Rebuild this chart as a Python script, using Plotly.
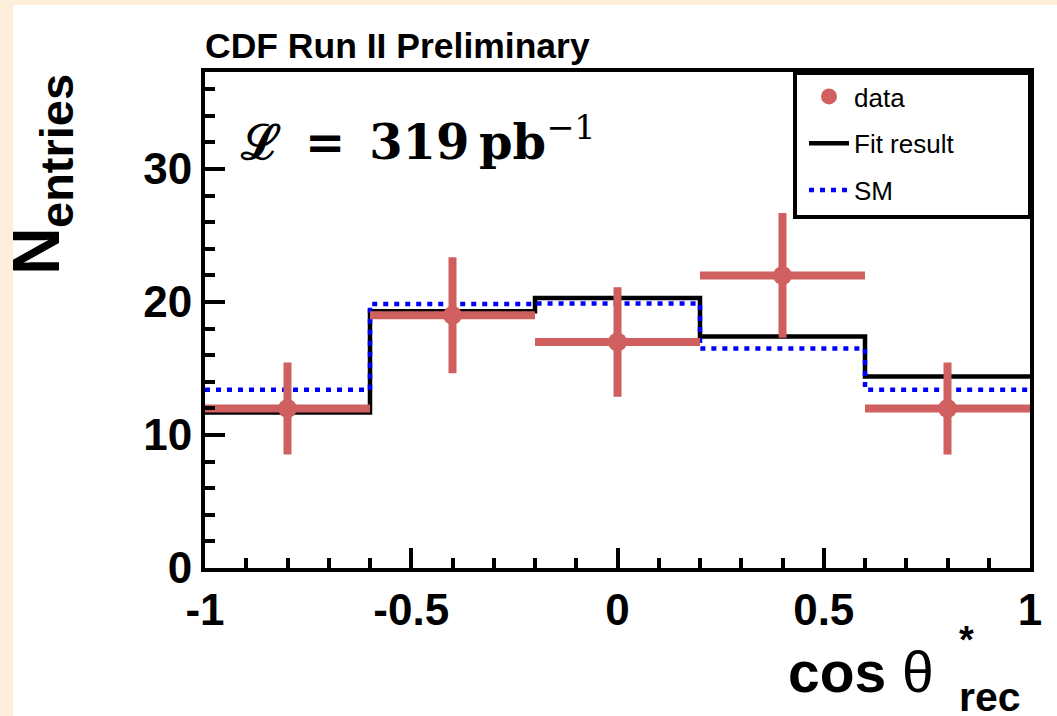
import plotly.graph_objects as go

# ---- data ----
bin_edges = [-1.0, -0.6, -0.2, 0.2, 0.6, 1.0]
bin_centers = [-0.8, -0.4, 0.0, 0.4, 0.8]
bin_halfwidth = [0.2, 0.2, 0.2, 0.2, 0.2]
data_counts = [12, 19, 17, 22, 12]
data_errors = [3.46, 4.36, 4.12, 4.69, 3.46]
fit_result = [11.7, 19.3, 20.3, 17.4, 14.4]
sm_values = [13.4, 19.85, 19.9, 16.5, 13.4]
x_tickvals = [-1, -0.5, 0, 0.5, 1]
x_ticktext = ["-1", "-0.5", "0", "0.5", "1"]
y_tickvals = [0, 10, 20, 30]

RED = "#D05F5F"
CREAM = "#FDEFD9"
SANS = "Liberation Sans"

# screen geometry of the plot area
SL, SR, ST, SB = 205, 1030, 72, 568
W, H = 1057, 716


def px(sx):
    return (sx - SL) / (SR - SL)


def py(sy):
    return (SB - sy) / (SB - ST)


fig = go.Figure()

fig.add_trace(go.Scatter(
    x=bin_edges, y=fit_result + [fit_result[-1]], mode="lines",
    line=dict(color="black", width=4.5, shape="hv"),
    name="Fit result", legendgroup="b", legendrank=2,
))
fig.add_trace(go.Scatter(
    x=bin_edges, y=sm_values + [sm_values[-1]], mode="lines",
    line=dict(color="#0000FF", width=4.5, shape="hv", dash="5px,6px"),
    name="SM", legendgroup="c", legendrank=3,
))
fig.add_trace(go.Scatter(
    x=bin_centers, y=data_counts, mode="markers",
    marker=dict(color=RED, size=19),
    error_y=dict(type="data", array=data_errors, thickness=8, width=0, color=RED),
    error_x=dict(type="data", array=bin_halfwidth, thickness=8, width=0, color=RED),
    name="data", legendgroup="a", legendrank=1,
))

axis_common = dict(
    showline=True, linewidth=4, linecolor="black", mirror=True,
    ticks="inside", tickwidth=4, tickcolor="black", ticklen=20,
    showgrid=False, zeroline=False,
    tickfont=dict(family=SANS, size=44, color="black", weight="bold"),
)

fig.update_xaxes(
    range=[-1, 1], tickvals=x_tickvals, ticktext=x_ticktext,
    minor=dict(dtick=0.1, ticks="inside", ticklen=10, tickwidth=4, tickcolor="black"),
    **axis_common,
)
fig.update_yaxes(
    range=[0, 37.3], tickvals=y_tickvals,
    minor=dict(dtick=2, ticks="inside", ticklen=10, tickwidth=4, tickcolor="black"),
    **axis_common,
)

shapes = [
    # white canvas inside the cream border
    dict(type="rect", xref="paper", yref="paper", x0=px(13), x1=px(1070),
         y0=py(730), y1=py(5), fillcolor="white", line=dict(width=0), layer="below"),
    # legend box
    dict(type="rect", xref="paper", yref="paper", x0=px(795), x1=px(1030),
         y0=py(217), y1=py(73), fillcolor="white", line=dict(color="black", width=4),
         layer="above"),
]

ann = dict(xref="paper", yref="paper", showarrow=False)
annotations = [
    dict(text="<b>CDF Run II Preliminary</b>", x=px(203), y=py(46), xanchor="left",
         yanchor="middle", font=dict(family=SANS, size=35.5, color="black"), **ann),
    dict(text="<b>ℒ\u2002=\u2002319\u2009pb</b><sup>−1</sup>", x=px(238), y=py(139),
         xanchor="left", yanchor="middle",
         font=dict(family="DejaVu Serif", size=48, color="black"), **ann),
    # y-axis title: N with subscript "entries"
    dict(text="<b>N</b>", x=px(36), y=py(251), xanchor="center",
         yanchor="middle", textangle=-90, font=dict(family=SANS, size=66, color="black"), **ann),
    dict(text="<b>entries</b>", x=px(56), y=py(151), xanchor="center",
         yanchor="middle", textangle=-90, font=dict(family=SANS, size=47, color="black"), **ann),
    # x-axis title: cos theta*_rec
    dict(text="<b>cos</b> θ", x=px(936), y=py(672), xanchor="right", yanchor="middle",
         font=dict(family=SANS, size=57, color="black"), **ann),
    dict(text="<b>*</b>", x=px(966), y=py(640), xanchor="center", yanchor="middle",
         font=dict(family=SANS, size=38, color="black"), **ann),
    dict(text="<b>rec</b>", x=px(957), y=py(697), xanchor="left", yanchor="middle",
         font=dict(family=SANS, size=41, color="black"), **ann),
]

fig.update_layout(
    width=W, height=H,
    margin=dict(l=SL, r=W - SR, t=ST, b=H - SB, autoexpand=False),
    paper_bgcolor=CREAM, plot_bgcolor="white",
    shapes=shapes, annotations=annotations,
    showlegend=True,
    legend=dict(
        x=px(804), y=py(73), xanchor="left", yanchor="top",
        bgcolor="rgba(0,0,0,0)", borderwidth=0,
        font=dict(family=SANS, size=26, color="black"),
        traceorder="grouped", tracegroupgap=10, itemwidth=40,
    ),
)

fig.write_html("out.html", config={"displayModeBar": False},
               post_script="document.body.style.margin='0';"
                           "document.body.style.backgroundColor='white';")
